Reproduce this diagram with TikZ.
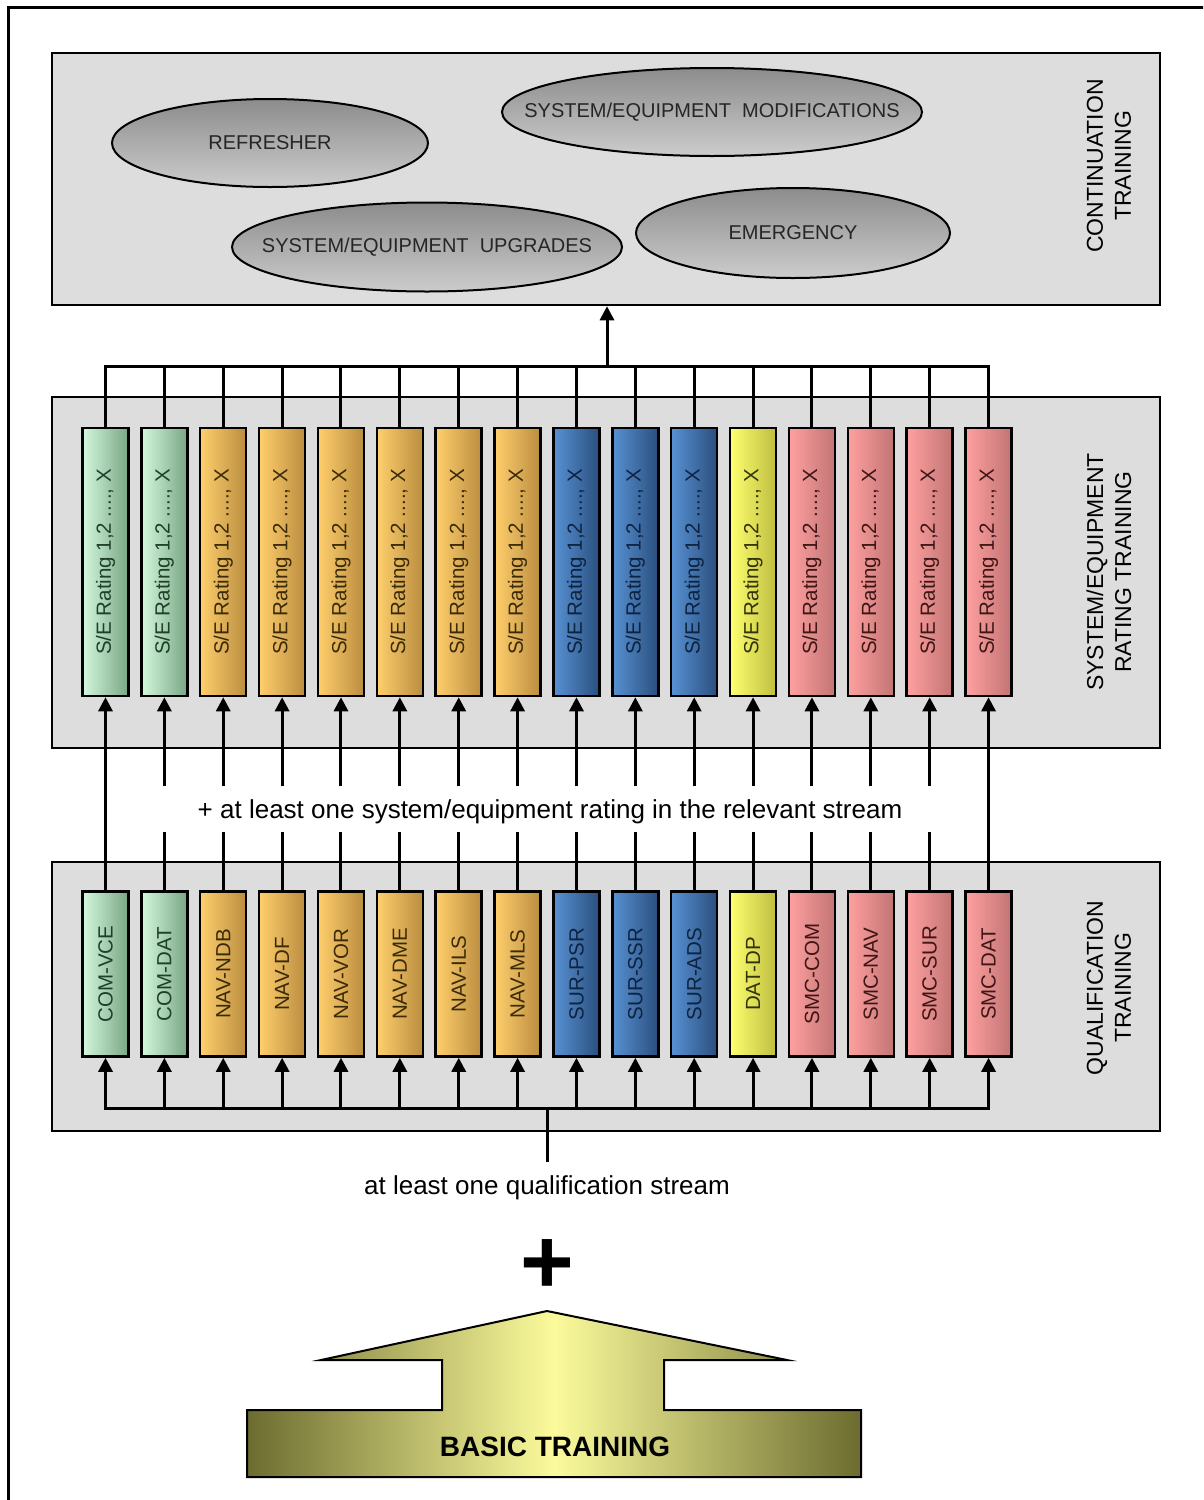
\documentclass[tikz,border=0pt]{standalone}
\usepackage{fontspec}
\setmainfont{Liberation Sans}
\usepackage{graphicx}
\usetikzlibrary{arrows.meta,positioning,shapes.geometric,calc}
\usepackage{xcolor}
\definecolor{panelgray}{HTML}{DDDDDD}
\definecolor{grnL}{HTML}{D4F8DE}
\definecolor{grnR}{HTML}{78A684}
\definecolor{grnT}{HTML}{1E3F28}
\definecolor{orgL}{HTML}{FFCF6C}
\definecolor{orgR}{HTML}{BA8D40}
\definecolor{orgT}{HTML}{3A2A08}
\definecolor{bluL}{HTML}{5891D3}
\definecolor{bluR}{HTML}{2A4F7E}
\definecolor{bluT}{HTML}{0E2340}
\definecolor{yelL}{HTML}{FFFF70}
\definecolor{yelR}{HTML}{BEBE40}
\definecolor{yelT}{HTML}{33330A}
\definecolor{pnkL}{HTML}{FFA0A0}
\definecolor{pnkR}{HTML}{C27474}
\definecolor{pnkT}{HTML}{3E1616}
\definecolor{olivedark}{HTML}{6C6C30}
\definecolor{paleyel}{HTML}{FBFB9C}

\tikzset{
  panel/.style={draw=black, line width=2.5pt, fill=panelgray, minimum width=1108pt, inner sep=0pt},
  oval/.style={ellipse, draw=black, line width=2pt, top color=black!45, bottom color=black!20,
    text=black!85, font=\fontsize{20}{24}\selectfont, inner sep=0pt},
  ratebox/.style={draw=black, line width=2.5pt, minimum width=46pt, minimum height=268pt,
    inner sep=0pt, font=\fontsize{20.5}{24}\selectfont},
  qualbox/.style={ratebox, minimum height=165pt},
  side/.style={rotate=90, align=center, font=\fontsize{23}{28}\selectfont},
  link/.style={line width=3pt},
  arr/.style={link, -{Triangle[width=14pt,length=14pt]}},
}

\begin{document}
\begin{tikzpicture}[x=1pt, y=-1pt]
  \useasboundingbox (0,0) rectangle (1203,1500);
  \clip (0,0) rectangle (1203,1500);
  \draw[line width=3pt] (8,7) rectangle (1240,1540);

  % Continuation training
  \node[panel, minimum height=252pt] (cont) at (606,179) {};
  \node[oval, minimum width=316pt, minimum height=88pt] (refresh) at (270,143) {\makebox[0pt]{REFRESHER}};
  \node[oval, minimum width=420pt, minimum height=88pt] (mods) at (712,112) {\makebox[0pt]{SYSTEM/EQUIPMENT\ \ MODIFICATIONS}};
  \node[oval, minimum width=390pt, minimum height=89pt] (upgr) at (427,247) {\makebox[0pt]{SYSTEM/EQUIPMENT\ \ UPGRADES}};
  \node[oval, minimum width=314pt, minimum height=90pt] (emerg) at (793,233) {\makebox[0pt]{EMERGENCY}};
  \node[side] (contlab) at (1109,166) {CONTINUATION\\TRAINING};

  % Rating and qualification panels
  \node[panel, minimum height=351pt] (ratpanel) at (606,572.5) {};
  \node[side] (ratlab) at (1109,572) {SYSTEM/EQUIPMENT\\RATING TRAINING};
  \node[panel, minimum height=269pt] (qualpanel) at (606,996.5) {};
  \node[side] (quallab) at (1109,988) {QUALIFICATION\\TRAINING};

  % Boxes
  \foreach \lab/\grp [count=\i] in {COM-VCE/grn, COM-DAT/grn, NAV-NDB/org, NAV-DF/org,
      NAV-VOR/org, NAV-DME/org, NAV-ILS/org, NAV-MLS/org, SUR-PSR/blu, SUR-SSR/blu,
      SUR-ADS/blu, DAT-DP/yel, SMC-COM/pnk, SMC-NAV/pnk, SMC-SUR/pnk, SMC-DAT/pnk}{
    \node[ratebox, left color=\grp L, right color=\grp R, text=\grp T] (r\i)
      at ({105.5+58.87*(\i-1)},562) {\rotatebox{90}{S/E Rating 1,2 ...., X}};
    \node[qualbox, left color=\grp L, right color=\grp R, text=\grp T] (q\i)
      at ({105.5+58.87*(\i-1)},974) {\rotatebox{90}{\lab}};
  }

  % Top bus
  \coordinate (tbus) at (607,366);
  \draw[link] (r1.north) |- (tbus) -| (r16.north);
  \foreach \i in {2,...,15} \draw[link] (r\i.north) -- (r\i.north |- tbus);
  \draw[arr] (tbus) -- (tbus |- cont.south);

  % Between the panels
  \node[font=\fontsize{26}{30}\selectfont] (relev) at (550,812) {+ at least one system/equipment rating in the relevant stream};
  \foreach \i in {1,16} \draw[arr] (q\i.north) -- (r\i.south);
  \foreach \i in {2,...,15}{
    \draw[link] (q\i.north) -- ++(0,-58);
    \draw[arr] ($(q\i.north)+(0,-104)$) -- (r\i.south);
  }

  % Bottom bus
  \coordinate (bbus) at (547,1108);
  \draw[link, line cap=rect] (q1.south |- bbus) -- (q16.south |- bbus);
  \foreach \i in {1,...,16} \draw[arr] (q\i.south |- bbus) -- (q\i.south);
  \node[font=\fontsize{26}{30}\selectfont] (qstream) at (547,1188) {at least one qualification stream};
  \draw[link] (bbus) -- ++(0,54);

  % Basic training
  \node[font=\fontsize{92}{92}\selectfont\bfseries] (plus) at (547,1267) {+};
  \shadedraw[line width=2pt, left color=olivedark, right color=olivedark, middle color=paleyel]
    (547,1311) -- (787,1360) -- (664,1360) -- (664,1410) -- (861,1410) -- (861,1477)
    -- (247,1477) -- (247,1410) -- (442,1410) -- (442,1360) -- (321,1360) -- cycle;
  \node[font=\fontsize{28}{32}\selectfont\bfseries] (basic) at (555,1447) {BASIC TRAINING};
\end{tikzpicture}
\end{document}
